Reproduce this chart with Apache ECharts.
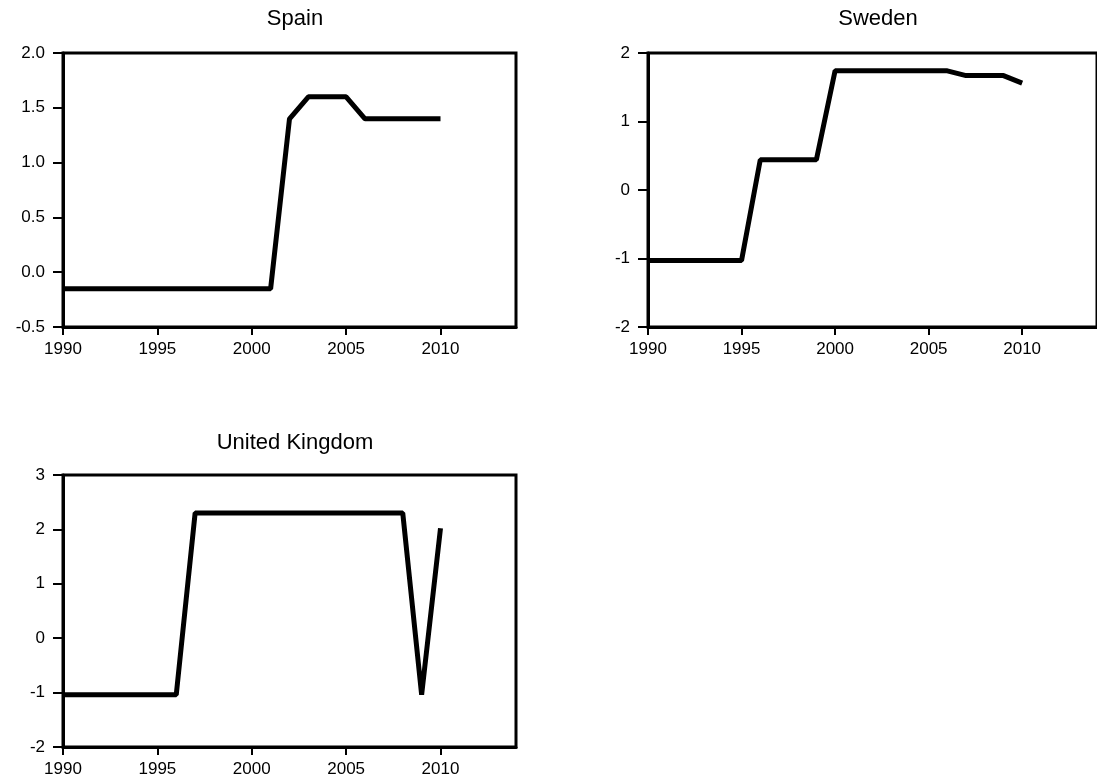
<!DOCTYPE html>
<html>
<head>
<meta charset="utf-8">
<script src="https://cdn.jsdelivr.net/npm/echarts@6/dist/echarts.min.js"></script>
<style>
  html, body { margin: 0; padding: 0; background: #fff; }
  #chart { width: 1097px; height: 782px; }
</style>
</head>
<body>
<div id="chart"></div>
<script>
// yearly values
var years = [1990, 1991, 1992, 1993, 1994, 1995, 1996, 1997, 1998, 1999, 2000,
  2001, 2002, 2003, 2004, 2005, 2006, 2007, 2008, 2009, 2010]
var spain = [-0.15, -0.15, -0.15, -0.15, -0.15, -0.15, -0.15, -0.15, -0.15, -0.15, -0.15,
  -0.15, 1.4, 1.6, 1.6, 1.6, 1.4, 1.4, 1.4, 1.4, 1.4]
var sweden = [-1.03, -1.03, -1.03, -1.03, -1.03, -1.03, 0.44, 0.44, 0.44, 0.44, 1.74,
  1.74, 1.74, 1.74, 1.74, 1.74, 1.74, 1.67, 1.67, 1.67, 1.56]
var uk = [-1.04, -1.04, -1.04, -1.04, -1.04, -1.04, -1.04, 2.3, 2.3, 2.3, 2.3,
  2.3, 2.3, 2.3, 2.3, 2.3, 2.3, 2.3, 2.3, -1.04, 2.02]
var panelTitles = ['Spain', 'Sweden', 'United Kingdom']
var xTicks = [1990, 1995, 2000, 2005, 2010]

var font = 'Liberation Sans, Arial, sans-serif'
var chart = echarts.init(document.getElementById('chart'))

function pairs(vals) {
  return years.map(function (y, i) { return [y, vals[i]] })
}

function xAxis(idx) {
  return {
    type: 'value', gridIndex: idx, min: 1990, max: 2014, interval: 5,
    splitLine: { show: false },
    axisLine: { show: true, onZero: false, lineStyle: { color: '#000', width: 3 } },
    axisTick: { show: true, length: 8, customValues: xTicks, lineStyle: { color: '#000', width: 2 } },
    axisLabel: {
      customValues: xTicks, margin: 14, color: '#000', fontSize: 17, fontFamily: font,
      formatter: function (v) { return String(v) }
    }
  }
}

function yAxis(idx, min, max, interval, digits) {
  return {
    type: 'value', gridIndex: idx, min: min, max: max, interval: interval,
    splitLine: { show: false },
    axisLine: { show: true, onZero: false, lineStyle: { color: '#000', width: 3 } },
    axisTick: { show: true, length: 10, lineStyle: { color: '#000', width: 2 } },
    axisLabel: {
      margin: 18, color: '#000', fontSize: 17, fontFamily: font,
      formatter: function (v) { return v.toFixed(digits) }
    }
  }
}

function line(idx, vals) {
  return {
    type: 'line', xAxisIndex: idx, yAxisIndex: idx, data: pairs(vals),
    symbol: 'none', animation: false,
    lineStyle: { color: '#000', width: 5, join: 'bevel' }
  }
}

var gridBox = { show: true, borderColor: '#000', borderWidth: 3, backgroundColor: 'transparent' }

chart.setOption({
  backgroundColor: '#fff',
  title: [
    { text: panelTitles[0], left: 290, top: 3, textAlign: 'center' },
    { text: panelTitles[1], left: 873, top: 3, textAlign: 'center' },
    { text: panelTitles[2], left: 290, top: 427, textAlign: 'center' }
  ].map(function (t) {
    t.textStyle = { color: '#000', fontSize: 22, fontWeight: 'normal', fontFamily: font }
    return t
  }),
  grid: [
    Object.assign({ left: 63, top: 53, width: 453, height: 274 }, gridBox),
    Object.assign({ left: 648, top: 53, width: 451, height: 274 }, gridBox),
    Object.assign({ left: 63, top: 475, width: 453, height: 272 }, gridBox)
  ],
  xAxis: [xAxis(0), xAxis(1), xAxis(2)],
  yAxis: [
    yAxis(0, -0.5, 2, 0.5, 1),
    yAxis(1, -2, 2, 1, 0),
    yAxis(2, -2, 3, 1, 0)
  ],
  series: [line(0, spain), line(1, sweden), line(2, uk)]
})
</script>
</body>
</html>
